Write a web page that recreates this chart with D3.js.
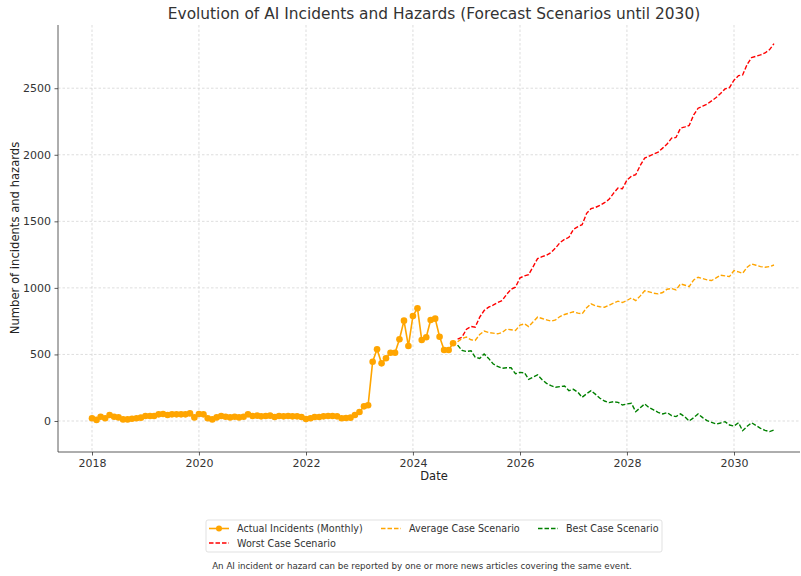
<!DOCTYPE html>
<html>
<head>
<meta charset="utf-8">
<script src="https://cdn.jsdelivr.net/npm/d3@7"></script>
<style>
  body { margin: 0; background: #fff; }
  svg { display: block; font-family: "DejaVu Sans", sans-serif; }
</style>
</head>
<body>
<svg id="chart" width="801" height="576"></svg>
<script>
// ---- data ----
const actualStart = [2018, 0];   // Jan 2018, monthly
const actualValues = [
  20, 8, 32, 20, 45, 32, 27, 12, 12, 17, 20, 25,
  37, 37, 37, 50, 52, 45, 50, 50, 50, 50, 57, 27,
  52, 50, 20, 12, 27, 37, 32, 27, 32, 27, 32, 50,
  37, 40, 35, 38, 40, 30, 38, 35, 38, 35, 35, 30,
  15, 20, 30, 30, 35, 38, 38, 35, 20, 22, 25, 45,
  68, 110, 118, 445, 539, 433, 471, 513, 513, 614, 754, 563,
  789, 847, 609, 629, 759, 769, 633, 533, 533, 584
];
const forecastStart = [2024, 10]; // Nov 2024, monthly
const worstCase = [
  615, 630, 690, 710, 705, 780, 830, 855, 870, 890, 905, 950,
  990, 1005, 1075, 1090, 1100, 1160, 1220, 1235, 1245, 1265, 1300, 1340,
  1365, 1380, 1440, 1460, 1475, 1560, 1595, 1605, 1620, 1640, 1665, 1710,
  1750, 1745, 1810, 1840, 1850, 1920, 1975, 1990, 2005, 2020, 2050, 2080,
  2125, 2130, 2200, 2210, 2220, 2300, 2350, 2365, 2380, 2405, 2430, 2460,
  2495, 2505, 2560, 2595, 2600, 2680, 2730, 2740, 2750, 2765, 2790, 2835
];
const averageCase = [
  595, 620, 630, 610, 605, 650, 675, 665, 660, 655, 665, 690,
  685, 680, 720, 730, 710, 745, 780, 770, 760, 750, 760, 785,
  800, 810, 820, 810, 805, 850, 880, 865, 858, 855, 870, 885,
  900, 890, 905, 925, 905, 940, 978, 970, 960, 955, 965, 990,
  995, 985, 1030, 1020, 1010, 1060, 1080, 1070, 1060, 1055, 1075, 1095,
  1090, 1085, 1130, 1120, 1110, 1155, 1180, 1170, 1160, 1155, 1160, 1172
];
const bestCase = [
  570, 530, 522, 528, 480, 470, 503, 470, 430, 410, 396, 400,
  400, 355, 365, 362, 313, 330, 346, 310, 283, 265, 253, 258,
  263, 228, 238, 215, 178, 205, 228, 200, 171, 150, 138, 145,
  140, 120, 128, 133, 70, 100, 128, 100, 83, 65, 53, 63,
  40, 33, 53, 30, 0, 25, 53, 25, 3, -10, -23, -15,
  -5, -30, -38, -13, -73, -40, -13, -35, -55, -70, -80, -68
];
const xTickYears = [2018, 2020, 2022, 2024, 2026, 2028, 2030];
const yTickValues = [0, 500, 1000, 1500, 2000, 2500];
const seriesNames = ["Actual Incidents (Monthly)", "Average Case Scenario", "Best Case Scenario", "Worst Case Scenario"];
const seriesColors = { actual: "#FFA500", average: "#FFA500", best: "#008000", worst: "#FF0000" };
const titleText = "Evolution of AI Incidents and Hazards (Forecast Scenarios until 2030)";
const xLabel = "Date";
const yLabel = "Number of incidents and hazards";
const footnote = "An AI incident or hazard can be reported by one or more news articles covering the same event.";

// ---- build ----
const toDates = (start, arr) => arr.map((v, i) => ({ date: new Date(start[0], start[1] + i, 1), value: v }));
const actual = toDates(actualStart, actualValues);
const worst = toDates(forecastStart, worstCase);
const avg = toDates(forecastStart, averageCase);
const best = toDates(forecastStart, bestCase);

const svg = d3.select("#chart");
const plot = { left: 58, right: 800, top: 25, bottom: 452 };

const x = d3.scaleTime()
  .domain([new Date(2018, 0, 1), new Date(2030, 0, 1)])
  .range([92, 734]);
const y = d3.scaleLinear().domain([-233, 2975]).range([plot.bottom, plot.top]);

svg.append("defs").append("clipPath").attr("id", "clip")
  .append("rect").attr("x", plot.left).attr("y", plot.top)
  .attr("width", plot.right - plot.left).attr("height", plot.bottom - plot.top);

// grid
const grid = svg.append("g");
grid.selectAll(".vg").data(xTickYears).join("line")
  .attr("x1", d => x(new Date(d, 0, 1))).attr("x2", d => x(new Date(d, 0, 1)))
  .attr("y1", plot.top).attr("y2", plot.bottom)
  .attr("stroke", "#d4d4d4").attr("stroke-width", 0.8).attr("stroke-dasharray", "2.5,2");
grid.selectAll(".hg").data(yTickValues).join("line")
  .attr("x1", plot.left).attr("x2", plot.right)
  .attr("y1", d => y(d)).attr("y2", d => y(d))
  .attr("stroke", "#d4d4d4").attr("stroke-width", 0.8).attr("stroke-dasharray", "2.5,2");

// axes
const xAxis = d3.axisBottom(x)
  .tickValues(xTickYears.map(yy => new Date(yy, 0, 1)))
  .tickFormat(d3.timeFormat("%Y")).tickSize(3.5).tickPadding(3.5);
const gx = svg.append("g").attr("transform", `translate(0,${plot.bottom})`).call(xAxis);
gx.select(".domain").attr("d", `M${plot.left},0H${plot.right}`);
const yAxis = d3.axisLeft(y).tickValues(yTickValues).tickFormat(d3.format("d")).tickSize(3.5).tickPadding(3.5);
const gy = svg.append("g").attr("transform", `translate(${plot.left},0)`).call(yAxis);
gy.select(".domain").attr("d", `M0,${plot.top}V${plot.bottom}`);
[gx, gy].forEach(g => {
  g.selectAll("text").attr("font-size", 11).attr("fill", "#333").attr("font-family", "DejaVu Sans");
  g.selectAll(".tick line").attr("stroke", "#333").attr("stroke-width", 0.8);
  g.select(".domain").attr("stroke", "#333").attr("stroke-width", 0.8);
});

// lines
const line = d3.line().x(d => x(d.date)).y(d => y(d.value));
const marks = svg.append("g").attr("clip-path", "url(#clip)");
const dashed = [
  { data: worst, color: seriesColors.worst },
  { data: avg, color: seriesColors.average },
  { data: best, color: seriesColors.best }
];
dashed.forEach(s => {
  marks.append("path").datum(s.data).attr("d", line)
    .attr("fill", "none").attr("stroke", s.color).attr("stroke-width", 1.4)
    .attr("stroke-dasharray", "4.5,2");
});
marks.append("path").datum(actual).attr("d", line)
  .attr("fill", "none").attr("stroke", seriesColors.actual).attr("stroke-width", 1.6);
marks.selectAll(".pt").data(actual).join("circle")
  .attr("cx", d => x(d.date)).attr("cy", d => y(d.value)).attr("r", 3.3)
  .attr("fill", seriesColors.actual);

// title & labels
svg.append("text").attr("x", 434).attr("y", 19).attr("text-anchor", "middle")
  .attr("font-size", 15.4).attr("fill", "#333").text(titleText);
svg.append("text").attr("x", 434).attr("y", 480).attr("text-anchor", "middle")
  .attr("font-size", 11.5).attr("fill", "#222").text(xLabel);
svg.append("text").attr("transform", "translate(19,238) rotate(-90)").attr("text-anchor", "middle")
  .attr("font-size", 11.6).attr("fill", "#222").text(yLabel);

// legend
const lg = svg.append("g");
lg.append("rect").attr("x", 206).attr("y", 520).attr("width", 456).attr("height", 32)
  .attr("rx", 2).attr("fill", "#fff").attr("stroke", "#d9d9d9").attr("stroke-width", 0.8);
const legendItems = [
  { name: seriesNames[0], color: seriesColors.actual, dash: null, marker: true, lx: 209, ly: 528.5 },
  { name: seriesNames[1], color: seriesColors.average, dash: "4.5,2", marker: false, lx: 381, ly: 528.5 },
  { name: seriesNames[2], color: seriesColors.best, dash: "4.5,2", marker: false, lx: 538, ly: 528.5 },
  { name: seriesNames[3], color: seriesColors.worst, dash: "4.5,2", marker: false, lx: 209, ly: 543 }
];
legendItems.forEach(it => {
  lg.append("line").attr("x1", it.lx).attr("x2", it.lx + 20).attr("y1", it.ly).attr("y2", it.ly)
    .attr("stroke", it.color).attr("stroke-width", it.marker ? 1.6 : 1.4)
    .attr("stroke-dasharray", it.dash);
  if (it.marker) lg.append("circle").attr("cx", it.lx + 10).attr("cy", it.ly).attr("r", 3).attr("fill", it.color);
  lg.append("text").attr("x", it.lx + 28).attr("y", it.ly + 3.5).attr("font-size", 9.6).attr("fill", "#333").text(it.name);
});
svg.append("text").attr("x", 422).attr("y", 569).attr("text-anchor", "middle")
  .attr("font-size", 8.7).attr("fill", "#333").text(footnote);
</script>
</body>
</html>
